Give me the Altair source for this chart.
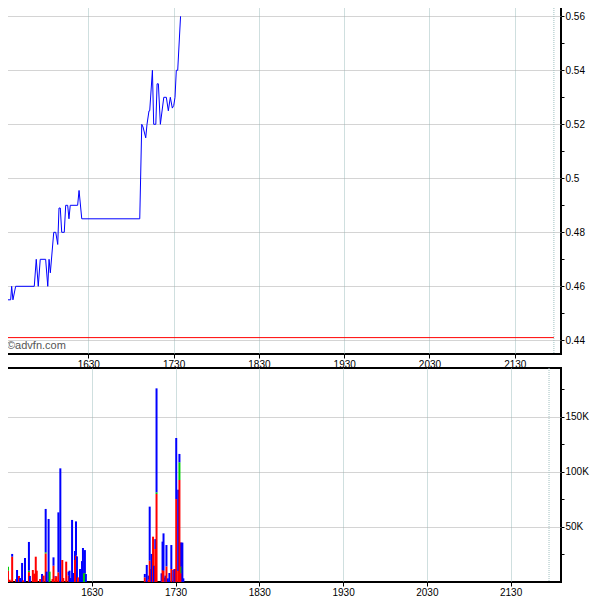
import altair as alt
import pandas as pd

# ---------------- data (times are minutes after midnight) ----------------
price_time = [929.3, 929.8, 930.3, 935.4, 936.1, 937.0, 938.9, 952.0, 953.4, 954.8,
              956.2, 960.0, 961.5, 962.4, 963.3, 965.7, 967.1, 968.5, 969.4, 970.3,
              971.3, 973.1, 974.1, 975.5, 976.4, 977.3, 982.5, 983.5, 985.4, 1026.2,
              1027.6, 1028.5, 1030.4, 1031.3, 1032.7, 1033.2, 1035.1, 1036.0, 1037.5, 1038.4,
              1039.3, 1040.7, 1043.1, 1044.9, 1046.3, 1047.7, 1049.1, 1050.1, 1051.0, 1051.9,
              1052.9, 1054.9]
price_value = [0.4505, 0.4575, 0.455, 0.455, 0.46, 0.455, 0.46, 0.46, 0.47, 0.46,
               0.47, 0.47, 0.46, 0.47, 0.465, 0.48, 0.48, 0.4755, 0.489, 0.489,
               0.48, 0.48, 0.49, 0.49, 0.485, 0.49, 0.49, 0.4955, 0.485, 0.485,
               0.52, 0.519, 0.515, 0.52, 0.525, 0.525, 0.54, 0.52, 0.52, 0.535,
               0.535, 0.52, 0.53, 0.53, 0.525, 0.53, 0.526, 0.527, 0.53, 0.54,
               0.54, 0.56]

bar_time = [930.0, 931.2, 933.0, 935.8, 936.5, 937.9, 938.7, 940.1, 940.8, 942.2,
            945.0, 945.7, 947.8, 948.8, 949.9, 950.6, 953.0, 954.4, 955.5, 957.0,
            957.7, 959.1, 959.8, 961.9, 962.6, 964.0, 964.7, 966.1, 967.5, 968.9,
            969.6, 971.7, 973.4, 974.1, 974.8, 975.9, 976.9, 978.0, 978.7, 979.4,
            980.1, 981.6, 983.0, 983.7, 984.4, 985.1, 985.8,
            1028.0, 1029.4, 1030.8, 1031.5, 1032.2, 1032.9, 1033.9, 1034.6, 1035.5, 1036.4,
            1040.0, 1040.7, 1041.4, 1042.1, 1042.8, 1043.5, 1044.5, 1045.6, 1047.0, 1048.4,
            1049.1, 1049.8, 1050.5, 1051.9, 1052.8, 1053.5, 1054.2, 1054.9, 1055.6]
vol_red = [10.3, 2.1, 23.0, 2.7, 0, 5.5, 0, 0, 1.5, 0,
           9.0, 0, 10.9, 7.6, 23.0, 10.3, 2.7, 0, 5.8, 26.0,
           0, 0, 0, 2.7, 14.8, 4.2, 5.2, 8.8, 0, 20.0,
           3.6, 18.5, 5.8, 0, 0, 0, 0, 20.0, 24.0, 0,
           4.2, 0, 0, 0, 0, 0, 0,
           4.2, 0, 2.0, 19.4, 11.8, 0, 41.2, 0, 30.0, 80.0,
           0, 10.9, 10.3, 4.0, 0, 14.2, 0, 0, 11.8, 0,
           11.8, 0, 75.4, 10.0, 92.7, 36.0, 8.0, 0, 0]
vol_green = [3.6, 0, 0, 0, 0, 0, 0, 0, 0, 0,
             1.3, 0, 0, 0, 0, 0, 0, 0, 0, 1.0,
             0, 0, 9.4, 0, 0, 0, 0, 0, 0, 0,
             0, 0, 0, 0, 0, 0, 0, 0, 0, 0,
             0, 0, 0, 0, 7.9, 7.9, 0,
             0, 0, 0, 0, 0, 0, 0, 0, 0, 1.5,
             0, 0, 0, 0, 0, 0, 0, 0, 0, 0,
             0, 0, 0, 0, 16.1, 0, 6.0, 0, 0]
vol_blue = [0, 0, 2.5, 0, 10.9, 0, 3.6, 17.3, 0, 21.8,
            26.1, 5.5, 0, 0, 0, 0, 0, 7.3, 0, 39.4,
            9.4, 57.3, 0, 0, 7.6, 1.0, 0, 54.5, 103.3, 0,
            0, 0, 3.6, 10.3, 3.6, 56.4, 8.2, 8.2, 31.1, 23.3,
            0, 11.8, 19.0, 30.9, 0, 21.1, 7.3,
            3.1, 15.5, 3.8, 49.1, 0, 25.5, 0, 14.8, 9.0, 94.5,
            7.9, 25.8, 33.9, 0, 5.8, 19.4, 3.3, 8.2, 21.8, 10.9,
            0, 11.8, 55.5, 73.9, 7.6, 0, 21.8, 35.8, 3.3]

prev_close = [0.441]
session_end = [1317.5]
hour_ticks = [990, 1050, 1110, 1170, 1230, 1290]
price_ticks = [0.44, 0.45, 0.46, 0.47, 0.48, 0.49, 0.50, 0.51, 0.52, 0.53, 0.54, 0.55, 0.56]
vol_ticks = [25000, 50000, 75000, 100000, 125000, 150000, 175000]

X_DOMAIN = [929.3, 1322.5]
PRICE_DOMAIN = [0.43493, 0.56604]
VOL_DOMAIN = [0, 194500]

# ---------------- tables ----------------
price_df = pd.DataFrame({"t": price_time, "p": price_value})
rows = []
for t, r, g, b in zip(bar_time, vol_red, vol_green, vol_blue):
    for side, o, v in (("red", 0, r), ("green", 1, g), ("blue", 2, b)):
        if v > 0:
            rows.append({"t": t, "side": side, "o": o, "v": v * 1000})
vol_df = pd.DataFrame(rows)
ref_df = pd.DataFrame({"p": prev_close, "t0": [X_DOMAIN[0]], "t1": session_end})
end_df = pd.DataFrame({"t": session_end})
mark_df = pd.DataFrame({"label": ["©advfn.com"]})
vol_tick_df = pd.DataFrame({"v": vol_ticks})

FONT = "Liberation Sans"
W = 559
xs = alt.Scale(domain=X_DOMAIN, nice=False, zero=False)
ps = alt.Scale(domain=PRICE_DOMAIN, nice=False, zero=False)
vs = alt.Scale(domain=VOL_DOMAIN, nice=False, zero=False)

HOUR_LABEL = "floor(datum.value/60)*100 + datum.value%60"
VGRID = "#9fbfbf"
HGRID = "#a8a8a8"

x_bottom_axis = alt.Axis(orient="bottom", values=hour_ticks, labelExpr=HOUR_LABEL,
                         grid=True, gridColor=VGRID, gridDash=[1, 1], gridWidth=1,
                         tickSize=4, tickColor="black", domain=False, labelPadding=1,
                         labelFontSize=10, labelFont=FONT, labelColor="black", title=None)
x_top_axis = alt.Axis(orient="top", values=hour_ticks, labels=False, grid=False,
                      tickSize=4, offset=-4, tickColor="black", domain=False, title=None)

# ---------------- top panel ----------------
line = alt.Chart(price_df).mark_line(color="#0000ff", strokeWidth=1).encode(
    x=alt.X("t:Q", scale=xs, axis=x_bottom_axis),
    y=alt.Y("p:Q", scale=ps, axis=alt.Axis(
        orient="right", values=price_ticks,
        labelExpr="round(datum.value*100)%2==0 ? format(datum.value, '.2~f') : ''",
        tickSize=3, tickColor="black", grid=False, domain=False, labelPadding=1,
        labelFontSize=10, labelFont=FONT, labelColor="black", title=None)),
)
red_rule = alt.Chart(ref_df).mark_rule(color="#ff0000", strokeWidth=1).encode(
    x=alt.X("t0:Q", scale=xs, axis=x_top_axis),
    x2="t1:Q",
    y=alt.Y("p:Q", scale=ps, axis=alt.Axis(
        orient="left", values=price_ticks, labels=False, tickSize=4, offset=-4,
        tickColor="black", domain=False, title=None,
        grid=True, gridColor=HGRID, gridDash=[1, 1], gridWidth=1,
        gridOpacity={"condition": {"test": "round(datum.value*100)%2==1", "value": 0}, "value": 1})),
)
end_rule = alt.Chart(end_df).mark_rule(color=VGRID, strokeDash=[1, 1], strokeWidth=1).encode(
    x=alt.X("t:Q", scale=xs, axis=None)
)
watermark = alt.Chart(mark_df).mark_text(
    align="left", baseline="middle", fontSize=11, font=FONT, color="#555555"
).encode(x=alt.value(5), y=alt.value(346), text="label:N")

top = alt.layer(red_rule, line, end_rule, watermark).resolve_axis(
    x="independent", y="independent").properties(width=W, height=354)

# ---------------- bottom panel ----------------
bars = alt.Chart(vol_df).mark_bar(size=2).encode(
    x=alt.X("t:Q", scale=xs, axis=x_bottom_axis),
    y=alt.Y("v:Q", scale=vs, stack="zero", axis=alt.Axis(
        orient="right", values=vol_ticks,
        labelExpr="datum.value % 50000 == 0 ? (datum.value/1000) + 'K' : ''",
        tickSize=3, tickColor="black", grid=False, domain=False, labelPadding=1,
        labelFontSize=10, labelFont=FONT, labelColor="black", title=None)),
    color=alt.Color("side:N", scale=alt.Scale(domain=["red", "green", "blue"],
                                              range=["#ff0000", "#00cc00", "#0000ff"]),
                    legend=None),
    order=alt.Order("o:Q"),
)
vol_axis_layer = alt.Chart(vol_tick_df).mark_point(opacity=0).encode(
    y=alt.Y("v:Q", scale=vs, axis=alt.Axis(
        orient="left", values=vol_ticks, labels=False, tickSize=4, offset=-4,
        tickColor="black", domain=False, title=None,
        grid=True, gridColor=HGRID, gridDash=[1, 1], gridWidth=1,
        gridOpacity={"condition": {"test": "datum.value % 50000 != 0", "value": 0}, "value": 1})),
)
end_rule2 = alt.Chart(end_df).mark_rule(color=VGRID, strokeDash=[1, 1], strokeWidth=1).encode(
    x=alt.X("t:Q", scale=xs, axis=None)
)
bottom = alt.layer(vol_axis_layer, bars, end_rule2).resolve_axis(
    x="independent", y="independent").properties(width=W, height=214)

chart = alt.vconcat(top, bottom, spacing=14, bounds="flush").configure_view(
    stroke="black", strokeWidth=2
).properties(padding={"left": -9, "top": -10, "right": 0, "bottom": 0})

chart.save("out.html", embed_options={"renderer": "svg", "actions": False})
